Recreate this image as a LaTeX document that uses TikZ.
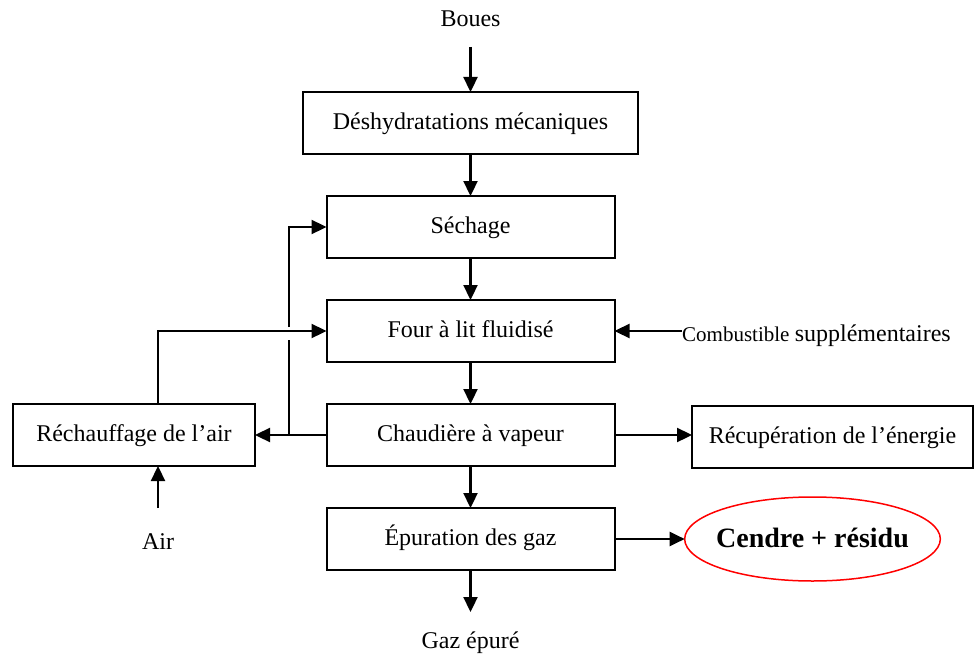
\documentclass[tikz,border=0pt]{standalone}
\usepackage{fontspec}
\setmainfont{Liberation Serif}
\usetikzlibrary{arrows.meta,shapes.geometric}
\begin{document}
\begin{tikzpicture}[x=1pt,y=-1pt,
  txt/.style={font=\fontsize{24}{28}\selectfont, inner sep=0pt},
  boxn/.style={draw, line width=2pt, font=\fontsize{24}{28}\selectfont, inner sep=0pt, outer sep=0pt,
               minimum height=62pt, text height=17pt, text depth=5pt},
  line/.style={line width=2.3pt},
  arr/.style={line width=2.3pt, -{Triangle[length=15pt,width=14pt]}}]
\useasboundingbox (0,0) rectangle (974,658);
% nodes
\node[txt] (boues) at (470.5,19) {Boues};
\node[boxn, minimum width=335pt] (desh) at (470.5,123) {Déshydratations mécaniques};
\node[boxn, minimum width=288pt] (sech) at (470.5,227) {Séchage};
\node[boxn, minimum width=288pt] (four) at (470.5,331) {Four à lit fluidisé};
\node[boxn, minimum width=288pt] (chaud) at (470.5,435) {Chaudière à vapeur};
\node[boxn, minimum width=288pt] (epur) at (470.5,539) {Épuration des gaz};
\node[boxn, minimum width=242pt] (rech) at (134,435) {Réchauffage de l’air};
\node[boxn, minimum width=281pt] (recup) at (832.5,437) {Récupération de l’énergie};
\node[draw=red, line width=1.5pt, ellipse, minimum width=255pt, minimum height=84pt,
      inner xsep=-6pt, inner ysep=0pt, outer sep=0pt, text height=19pt, text depth=3pt,
      font=\fontsize{28}{32}\selectfont\bfseries] (cendre) at (812.5,539) {Cendre + résidu};
\node[txt] (gaz) at (470.5,643) {Gaz épuré};
\node[txt] (air) at (158,542) {Air};
\node[inner sep=0pt, anchor=base west] (comb) at (682,341) {\fontsize{21}{26}\selectfont Combustible \fontsize{24}{28}\selectfont supplémentaires};
% coordinates
\coordinate (bouesend) at (470.5,47);
\coordinate (gazend) at (470.5,612);
\coordinate (airend) at (158,508);
\coordinate (rechbot) at (158,466);
\coordinate (rechtop) at (158,404);
\coordinate (jct) at (289,435);
\coordinate (gapb) at (289,340);
\coordinate (gapt) at (289,327);
% connectors
\draw[arr] (bouesend) -- (desh.north);
\draw[arr] (desh.south) -- (sech.north);
\draw[arr] (sech.south) -- (four.north);
\draw[arr] (four.south) -- (chaud.north);
\draw[arr] (chaud.south) -- (epur.north);
\draw[arr] (epur.south) -- (gazend);
\draw[arr] (chaud.west) -- (rech.east);
\draw[line] (jct) -- (gapb);
\draw[arr] (gapt) |- (sech.west);
\draw[arr] (rechtop) |- (four.west);
\draw[arr] (airend) -- (rechbot);
\draw[arr] (comb.west |- four.east) -- (four.east);
\draw[arr] (chaud.east) -- (chaud.east -| recup.west);
\draw[arr] (epur.east) -- (cendre.west);
\end{tikzpicture}
\end{document}
